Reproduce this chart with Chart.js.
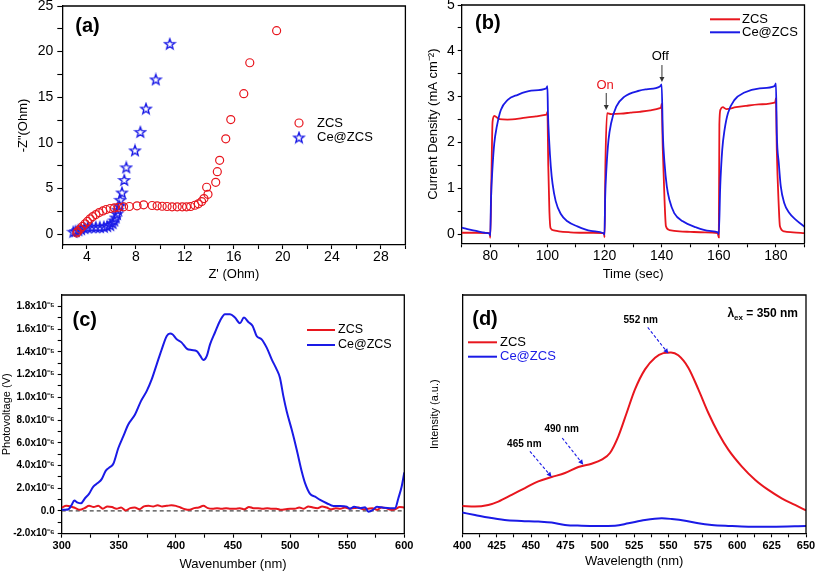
<!DOCTYPE html>
<html><head><meta charset="utf-8">
<script src="https://cdn.jsdelivr.net/npm/chart.js@4.4.1/dist/chart.umd.min.js"></script>
<style>
html,body{margin:0;padding:0;background:#fff;}
#wrap{position:relative;width:815px;height:571px;overflow:hidden;background:#fff;}
canvas{position:absolute;left:0;top:0;}
</style></head><body>
<div id="wrap">
<canvas id="ca" width="815" height="571"></canvas>
<canvas id="cb" width="815" height="571"></canvas>
<canvas id="cc" width="815" height="571"></canvas>
<canvas id="cd" width="815" height="571"></canvas>
</div>
<script>
// ---------------- DATA ----------------
// (a) Nyquist plot
const A_ZCS_X = [3.18,3.26,3.45,3.64,3.86,4.05,4.27,4.49,4.74,5.01,5.31,5.58,5.91,6.26,6.59,7.0,7.47,8.10,8.64,9.33,9.74,10.15,10.55,10.96,11.38,11.79,12.14,12.47,12.82,13.10,13.37,13.56,13.89,13.78,14.52,14.65,14.84,15.34,15.75,16.81,17.30,19.49];
const A_ZCS_Y = [0.12,0.29,0.55,0.83,1.12,1.38,1.67,1.92,2.14,2.36,2.54,2.69,2.80,2.87,2.94,2.98,3.02,3.09,3.20,3.13,3.09,3.05,3.02,2.98,2.98,2.98,2.98,3.02,3.16,3.31,3.56,3.89,4.36,5.13,5.67,6.84,8.08,10.44,12.55,15.39,18.78,22.30];
const A_CE_X = [2.90,3.09,3.31,3.53,3.80,4.08,4.40,4.73,5.06,5.39,5.66,5.91,6.10,6.24,6.35,6.46,6.54,6.65,6.73,6.87,7.06,7.22,7.93,8.37,8.83,9.63,10.77];
const A_CE_Y = [0.25,0.32,0.43,0.54,0.65,0.73,0.76,0.76,0.76,0.80,0.87,0.98,1.20,1.49,1.82,2.22,2.66,3.09,3.75,4.55,5.93,7.31,9.17,11.20,13.75,16.95,20.85];
const A_X_TICKS = [2,4,6,8,10,12,14,16,18,20,22,24,26,28,30];
const A_X_LABELS = ['','4','','8','','12','','16','','20','','24','','28',''];
const A_Y_TICKS = [0,2.5,5,7.5,10,12.5,15,17.5,20,22.5,25];
const A_Y_LABELS = ['0','','5','','10','','15','','20','','25'];

// (b) transient photocurrent
const B_ZCS_T = [70,75,79.8,80.0,80.4,80.8,81.4,82.0,83.2,86.0,90,93,96,99.2,99.8,100.0,100.3,100.7,101.1,102.3,104,108,112,116,119.8,120.0,120.3,120.9,122.3,125.7,129,132.2,136,139.4,139.8,140.0,140.4,141.0,141.5,142.7,146.2,150,155,159.6,160.0,160.2,160.6,161.4,162.6,166,169.6,174,179.5,179.8,180,180.3,181,181.4,182.9,186,190];
const B_ZCS_V = [0.03,0.03,0.02,-0.08,1.20,2.45,2.58,2.56,2.51,2.50,2.52,2.55,2.57,2.60,2.62,2.67,1.50,0.50,0.13,0.08,0.06,0.04,0.03,0.03,0.02,-0.07,1.50,2.64,2.62,2.63,2.65,2.67,2.70,2.75,2.77,2.84,1.84,0.75,0.17,0.09,0.06,0.05,0.04,0.02,-0.07,2.40,2.72,2.77,2.73,2.77,2.80,2.83,2.87,2.89,2.96,1.84,0.60,0.17,0.06,0.04,0.02];
const B_CE_T = [70,72,75,78,79.8,80,80.25,80.8,81.4,82.3,83.7,86.1,89.6,94.3,99.6,100,100.2,100.6,101.2,101.8,102.9,104.7,107,110.5,115.2,119.6,120,120.2,120.7,121.4,122.3,124.1,127,132.2,134.7,139.4,140,140.4,141,141.8,142.7,144.4,147.4,152,156.7,159.7,160,160.5,161.2,162,163.2,165.5,169,174.3,179.5,180,180.3,181,181.7,182.9,184.7,187,190];
const B_CE_V = [0.14,0.11,0.07,0.03,0.01,-0.03,0.75,1.47,1.98,2.35,2.71,2.93,3.04,3.13,3.18,3.23,2.64,2.06,1.47,1.10,0.72,0.44,0.28,0.17,0.07,0.02,-0.01,0.75,1.47,2.06,2.42,2.78,3.00,3.13,3.16,3.22,3.27,2.20,1.55,1.04,0.75,0.46,0.28,0.15,0.07,0.04,0.00,1.04,1.84,2.27,2.64,2.93,3.09,3.18,3.23,3.29,2.20,1.55,1.04,0.68,0.46,0.31,0.16];
const B_X_TICKS = [70,80,90,100,110,120,130,140,150,160,170,180,190];
const B_X_LABELS = ['','80','','100','','120','','140','','160','','180',''];
const B_Y_TICKS = [0,0.5,1,1.5,2,2.5,3,3.5,4,4.5,5];
const B_Y_LABELS = ['0','','1','','2','','3','','4','','5'];

// (c) surface photovoltage, values in units of 1e-6 V
const C_CE_W = [300,303,306,308.7,311,314,316.9,320.4,323.9,327.7,331.5,335,338.5,342.3,345.2,349.6,353.9,358.3,364.2,369.4,374.4,378.8,383.2,387.6,392,394.9,396.9,400.7,405.1,409.5,413.8,418.2,421.1,424,427,429.9,434.2,438.6,443,447.4,451.7,456.1,459.6,463.4,467.2,470.7,475.1,479.5,483.9,488.2,491.1,494.1,497,501.4,505.8,510.2,513.1,517.5,521.9,526.3,532.1,538,543.8,549.6,552.5,556,561.3,565.7,568.6,572.5,576,581.8,587.6,592,594.8,597.7,600];
const C_CE_V = [0.1,0.1,0.15,0.53,0.91,0.73,0.68,1.12,1.5,2.15,2.45,2.8,3.53,3.86,4.15,5.54,6.56,7.6,8.48,9.66,10.54,11.57,12.9,14.22,15.4,15.61,15.55,15.1,14.81,14.28,14.16,14.07,13.69,13.28,13.63,14.66,15.7,16.72,17.31,17.31,17.02,16.52,17.02,16.63,16.28,15.4,15.1,14.37,13.34,12.46,11.72,10.1,8.77,7.16,5.39,3.47,2.45,1.5,1.26,0.97,0.68,0.44,0.44,0.38,0.2,0.38,0.24,0.33,-0.06,0.09,0.38,0.29,0.24,0.24,1.12,2.15,3.4];
const C_ZCS_W = [300,304,308,312,316,320,324,328,332,336,340,344,348,352,356,360,364,368,372,376,380,384,388,392,396,400,404,408,412,416,420,424,428,432,436,440,444,448,452,456,460,464,468,472,476,480,484,488,492,496,500,504,508,512,516,520,524,528,532,536,540,544,548,552,556,560,564,568,572,576,580,584,588,592,596,600];
const C_ZCS_V = [0.3,0.45,0.4,0.25,0.1,0.25,0.45,0.35,0.45,0.2,0.4,0.35,0.2,0.3,0.05,0.25,0.3,0.15,0.4,0.45,0.4,0.5,0.4,0.45,0.5,0.45,0.3,0.15,0.1,0.25,0.3,0.45,0.25,0.2,0.25,0.2,0.25,0.2,0.2,0.25,0.15,0.35,0.25,0.25,0.2,0.25,0.2,0.2,0.1,0.15,0.2,0.2,0.3,0.2,0.4,0.3,0.25,0.4,0.3,0.15,0.25,0.2,0.3,0.2,0.25,0.3,0.15,0.2,0.25,0.1,0.3,0.25,0.1,0.15,0.35,0.3];
const C_BASE_W = [300,600];
const C_BASE_V = [0,0];
const C_X_TICKS = [300,325,350,375,400,425,450,475,500,525,550,575,600];
const C_X_LABELS = ['300','','350','','400','','450','','500','','550','','600'];
const C_Y_TICKS = [-2,-1,0,1,2,3,4,5,6,7,8,9,10,11,12,13,14,15,16,17,18];
const C_Y_LABELS = ['-2.0x10⁻⁶','','0.0','','2.0x10⁻⁶','','4.0x10⁻⁶','','6.0x10⁻⁶','','8.0x10⁻⁶','','1.0x10⁻⁵','','1.2x10⁻⁵','','1.4x10⁻⁵','','1.6x10⁻⁵','','1.8x10⁻⁵'];

// (d) photoluminescence, arbitrary units
const D_ZCS_W = [400,409.2,418.9,426.2,435.9,445.6,455.3,465.0,474.7,484.4,494.1,501.4,507.4,513.5,519.6,525.6,532.9,540.2,546.2,551.8,557.1,564.4,571.7,578.9,586.2,593.5,603.2,612.9,622.6,632.3,642.0,650];
const D_ZCS_V = [11.5,11.2,11.9,13.3,16.1,19.0,21.8,23.6,25.3,27.8,29.2,30.9,33.7,40.7,50.6,60.4,68.8,73.7,75.6,75.9,74.7,69.5,60.4,50.6,42.1,35.1,28.1,22.5,18.2,14.7,11.9,9.6];
const D_CE_W = [400,409.2,418.9,430.8,443,455.3,465,474.7,486.8,498.9,511.1,520.8,532.9,545.1,552.4,562.1,571.7,581.4,593.5,608.1,625.1,650];
const D_CE_V = [8.7,7.7,6.6,5.6,5.2,4.9,4.5,3.5,3.2,3.1,3.2,4.2,5.6,6.3,6.0,5.3,4.2,3.5,3.1,2.8,2.8,3.1];
const D_X_TICKS = [400,412.5,425,437.5,450,462.5,475,487.5,500,512.5,525,537.5,550,562.5,575,587.5,600,612.5,625,637.5,650];
const D_X_LABELS = ['400','','425','','450','','475','','500','','525','','550','','575','','600','','625','','650'];

// ---------------- STYLE / HELPERS ----------------
const RED = '#e8161e', BLUE = '#1a1ae6';
const FF = "'Liberation Sans', Arial, Helvetica, sans-serif";
const CW = 815, CH = 571;
const pts = (xs, ys) => xs.map((x, i) => ({x: x, y: ys[i]}));
const F = (size, weight) => ({family: FF, size: size, weight: weight || 'normal', lineHeight: 1});

function starImg(color, r) {
  const c = document.createElement('canvas');
  const s = Math.ceil(2 * r + 3);
  c.width = c.height = s;
  const x = c.getContext('2d');
  x.beginPath();
  for (let i = 0; i < 10; i++) {
    const a = -Math.PI / 2 + i * Math.PI / 5;
    const rr = i % 2 ? r * 0.42 : r;
    x.lineTo(s / 2 + rr * Math.cos(a), s / 2 + 0.5 + rr * Math.sin(a));
  }
  x.closePath();
  x.strokeStyle = color; x.lineWidth = 1.4; x.stroke();
  return c;
}
const STAR = starImg(BLUE, 5.4);

function txt(ctx, s, x, y, font, color, align) {
  ctx.save(); ctx.font = font; ctx.fillStyle = color || '#000';
  ctx.textAlign = align || 'left'; ctx.textBaseline = 'middle';
  ctx.fillText(s, x, y); ctx.restore();
}
function line(ctx, x1, y1, x2, y2, color, w) {
  ctx.save(); ctx.strokeStyle = color; ctx.lineWidth = w; ctx.beginPath();
  ctx.moveTo(x1, y1); ctx.lineTo(x2, y2); ctx.stroke(); ctx.restore();
}
function arrow(ctx, x1, y1, x2, y2, color, dash, lw, hl, hw) {
  ctx.save(); ctx.strokeStyle = color; ctx.fillStyle = color; ctx.lineWidth = lw;
  const a = Math.atan2(y2 - y1, x2 - x1);
  const bx = x2 - hl * Math.cos(a), by = y2 - hl * Math.sin(a);
  ctx.setLineDash(dash || []); ctx.beginPath(); ctx.moveTo(x1, y1); ctx.lineTo(bx, by); ctx.stroke();
  ctx.setLineDash([]); ctx.beginPath(); ctx.moveTo(x2, y2);
  ctx.lineTo(bx + hw * Math.sin(a), by - hw * Math.cos(a));
  ctx.lineTo(bx - hw * Math.sin(a), by + hw * Math.cos(a));
  ctx.closePath(); ctx.fill(); ctx.restore();
}
function frame(c) {
  const a = c.chartArea, x = c.ctx;
  x.save(); x.strokeStyle = '#000'; x.lineWidth = 1.3; x.beginPath();
  x.moveTo(a.left, a.top); x.lineTo(a.right, a.top); x.lineTo(a.right, a.bottom); x.stroke(); x.restore();
}
function zeroPad(s) { s.paddingLeft = s.paddingRight = s.paddingTop = s.paddingBottom = 0; }

function scaleX(g, o) {
  return {
    type: 'linear', position: 'bottom', min: o.min, max: o.max, bounds: 'data',
    afterBuildTicks: s => { s.ticks = o.ticks.map(v => ({value: v})); },
    afterFit: s => { s.height = CH - g.B; zeroPad(s); },
    grid: {display: true, drawOnChartArea: false, drawTicks: true, tickLength: o.tickLen, tickColor: '#000', tickWidth: 1.1, color: '#000'},
    border: {display: true, color: '#000', width: 1.3},
    ticks: {display: true, autoSkip: false, maxRotation: 0, minRotation: 0, padding: o.pad, color: '#000', font: o.font,
            callback: (v, i) => o.labels[i]},
    title: {display: true, text: o.title, color: '#000', font: o.tfont,
            padding: {top: 0, bottom: CH - o.titleY - o.tfont.size / 2}}
  };
}
function scaleY(g, o) {
  const show = o.ticks !== undefined;
  const sc = {
    type: 'linear', position: 'left', min: o.min, max: o.max, bounds: 'data',
    afterFit: s => { s.width = g.L; zeroPad(s); },
    grid: {display: show, drawOnChartArea: false, drawTicks: show, tickLength: o.tickLen || 4, tickColor: '#000', tickWidth: 1.1, color: '#000'},
    border: {display: true, color: '#000', width: 1.3},
    ticks: {display: show, autoSkip: false, padding: o.pad || 0, color: '#000', font: o.font || F(12),
            callback: (v, i) => (show ? o.labels[i] : '')},
    title: {display: true, text: o.title, color: '#000', font: o.tfont,
            padding: {top: o.titleX - o.tfont.size / 2, bottom: 0}}
  };
  if (show) sc.afterBuildTicks = s => { s.ticks = o.ticks.map(v => ({value: v})); };
  return sc;
}
function build(id, g, datasets, xo, yo, deco) {
  return new Chart(document.getElementById(id), {
    type: 'scatter',
    data: {datasets: datasets},
    options: {
      responsive: false, animation: false, devicePixelRatio: 1,
      layout: {padding: {left: 0, top: g.T, right: CW - g.R, bottom: 0}},
      plugins: {legend: {display: false}, tooltip: {enabled: false}},
      scales: {x: scaleX(g, xo), y: scaleY(g, yo)}
    },
    plugins: [{id: 'deco_' + id, afterDraw: c => { frame(c); deco(c.ctx, c); }}]
  });
}
const lineDs = (label, data, color, w, order, extra) => Object.assign({
  label: label, data: data, showLine: true, borderColor: color, backgroundColor: color,
  borderWidth: w, pointRadius: 0, tension: 0, order: order, fill: false
}, extra || {});
const SMOOTH = {cubicInterpolationMode: 'monotone'};

// ---------------- (a) ----------------
build('ca', {L: 62.3, T: 5, R: 405.4, B: 245},
  [
    {label: 'ZCS', data: pts(A_ZCS_X, A_ZCS_Y), showLine: false, pointStyle: 'circle', pointRadius: 4,
     pointBorderWidth: 1.2, pointBorderColor: RED, pointBackgroundColor: 'rgba(255,255,255,0)', order: 1},
    {label: 'Ce@ZCS', data: pts(A_CE_X, A_CE_Y), showLine: false, pointStyle: STAR, pointRadius: 5,
     pointBorderColor: BLUE, pointBackgroundColor: BLUE, order: 2}
  ],
  {min: 2, max: 30, ticks: A_X_TICKS, labels: A_X_LABELS, tickLen: 4, pad: 1, font: F(14),
   title: "Z' (Ohm)", tfont: F(13), titleY: 274},
  {min: -1.2, max: 25, ticks: A_Y_TICKS, labels: A_Y_LABELS, tickLen: 5, pad: 4, font: F(14),
   title: '-Z"(Ohm)', tfont: F(13), titleX: 23},
  (ctx, c) => {
    txt(ctx, '(a)', 87.5, 26.5, 'bold 20px ' + FF, '#000', 'center');
    ctx.save(); ctx.strokeStyle = RED; ctx.lineWidth = 1.2; ctx.beginPath(); ctx.arc(299, 123, 4, 0, Math.PI * 2); ctx.stroke(); ctx.restore();
    txt(ctx, 'ZCS', 317, 123, '13px ' + FF);
    ctx.drawImage(STAR, 299 - STAR.width / 2, 137.5 - STAR.height / 2);
    txt(ctx, 'Ce@ZCS', 317, 137.5, '13px ' + FF);
  });

// ---------------- (b) ----------------
build('cb', {L: 461.7, T: 5, R: 804.5, B: 243.3},
  [
    lineDs('ZCS', pts(B_ZCS_T, B_ZCS_V), RED, 1.8, 2, SMOOTH),
    lineDs('Ce@ZCS', pts(B_CE_T, B_CE_V), BLUE, 1.8, 1, SMOOTH)
  ],
  {min: 70, max: 190, ticks: B_X_TICKS, labels: B_X_LABELS, tickLen: 4, pad: 2, font: F(14),
   title: 'Time (sec)', tfont: F(13), titleY: 274},
  {min: -0.2, max: 5, ticks: B_Y_TICKS, labels: B_Y_LABELS, tickLen: 4, pad: 3, font: F(14),
   title: 'Current Density (mA cm⁻²)', tfont: F(13), titleX: 433.3},
  (ctx, c) => {
    const X = v => c.scales.x.getPixelForValue(v), Y = v => c.scales.y.getPixelForValue(v);
    txt(ctx, '(b)', 487.8, 23.3, 'bold 20px ' + FF, '#000', 'center');
    line(ctx, 710, 19.3, 740, 19.3, RED, 2);
    txt(ctx, 'ZCS', 742, 19.3, '13px ' + FF);
    line(ctx, 710, 32.3, 740, 32.3, BLUE, 2);
    txt(ctx, 'Ce@ZCS', 742, 32.3, '13px ' + FF);
    txt(ctx, 'On', X(120.2), Y(3.25), '13px ' + FF, RED, 'center');
    arrow(ctx, X(120.6), Y(3.08), X(120.6), Y(2.71), '#333', null, 1, 5, 2.5);
    txt(ctx, 'Off', X(139.5), Y(3.87), '13px ' + FF, '#000', 'center');
    arrow(ctx, X(140.1), Y(3.69), X(140.1), Y(3.32), '#333', null, 1, 5, 2.5);
  });

// ---------------- (c) ----------------
build('cc', {L: 61.7, T: 295, R: 404.3, B: 533.7},
  [
    lineDs('ZCS', pts(C_ZCS_W, C_ZCS_V), RED, 2, 2, SMOOTH),
    lineDs('Ce@ZCS', pts(C_CE_W, C_CE_V), BLUE, 2, 1, SMOOTH),
    lineDs('zero', pts(C_BASE_W, C_BASE_V), '#444', 1.2, 3, {borderDash: [4, 3]})
  ],
  {min: 300, max: 600, ticks: C_X_TICKS, labels: C_X_LABELS, tickLen: 4, pad: 3, font: F(11, 'bold'),
   title: 'Wavenumber (nm)', tfont: F(13), titleY: 564},
  {min: -2, max: 19, ticks: C_Y_TICKS, labels: C_Y_LABELS, tickLen: 4, pad: 3, font: F(10, 'bold'),
   title: 'Photovoltage (V)', tfont: F(11), titleX: 7},
  (ctx, c) => {
    txt(ctx, '(c)', 84.7, 320, 'bold 20px ' + FF, '#000', 'center');
    line(ctx, 307, 330, 335, 330, RED, 2);
    txt(ctx, 'ZCS', 338, 330, '12.5px ' + FF);
    line(ctx, 307, 345, 335, 345, BLUE, 2);
    txt(ctx, 'Ce@ZCS', 338, 345, '12.5px ' + FF);
  });

// ---------------- (d) ----------------
build('cd', {L: 462.3, T: 295, R: 806, B: 533.3},
  [
    lineDs('ZCS', pts(D_ZCS_W, D_ZCS_V), RED, 2, 2, SMOOTH),
    lineDs('Ce@ZCS', pts(D_CE_W, D_CE_V), BLUE, 2, 1, SMOOTH)
  ],
  {min: 400, max: 650, ticks: D_X_TICKS, labels: D_X_LABELS, tickLen: 4, pad: 3, font: F(11, 'bold'),
   title: 'Wavelength (nm)', tfont: F(13), titleY: 561.7},
  {min: 0, max: 100, title: 'Intensity (a.u.)', tfont: F(11), titleX: 435},
  (ctx, c) => {
    const X = v => c.scales.x.getPixelForValue(v), Y = v => c.scales.y.getPixelForValue(v);
    const a = c.chartArea;
    txt(ctx, '(d)', 485, 319, 'bold 20px ' + FF, '#000', 'center');
    line(ctx, 468, 342.3, 497, 342.3, RED, 2);
    txt(ctx, 'ZCS', 500, 342.3, '13px ' + FF, '#000');
    line(ctx, 468, 356.7, 497, 356.7, BLUE, 2);
    txt(ctx, 'Ce@ZCS', 500, 356.7, '13px ' + FF, BLUE);
    // lambda_ex label
    ctx.save(); ctx.textBaseline = 'middle'; ctx.fillStyle = '#000';
    ctx.font = 'bold 12px ' + FF;
    const rest = ' = 350 nm';
    const wRest = ctx.measureText(rest).width;
    ctx.font = 'bold 8px ' + FF; const wEx = ctx.measureText('ex').width;
    ctx.font = 'bold 12px ' + FF; const wL = ctx.measureText('λ').width;
    let x0 = a.right - 8 - wRest - wEx - wL, y0 = a.top + 19;
    ctx.fillText('λ', x0, y0);
    ctx.font = 'bold 8px ' + FF; ctx.fillText('ex', x0 + wL, y0 + 4);
    ctx.font = 'bold 12px ' + FF; ctx.fillText(rest, x0 + wL + wEx, y0);
    ctx.restore();
    // peak annotations
    txt(ctx, '552 nm', X(529.8), Y(89.3), 'bold 10px ' + FF, '#000', 'center');
    arrow(ctx, X(534.9), Y(86.4), X(549.9), Y(75.4), BLUE, [3, 2], 1.1, 5, 2.5);
    txt(ctx, '490 nm', X(472.3), Y(43.5), 'bold 10px ' + FF, '#000', 'center');
    arrow(ctx, X(472.7), Y(40.0), X(488.0), Y(28.8), BLUE, [3, 2], 1.1, 5, 2.5);
    txt(ctx, '465 nm', X(445.1), Y(37.5), 'bold 10px ' + FF, '#000', 'center');
    arrow(ctx, X(449.2), Y(34.4), X(465.0), Y(23.6), BLUE, [3, 2], 1.1, 5, 2.5);
  });
</script>
</body></html>
